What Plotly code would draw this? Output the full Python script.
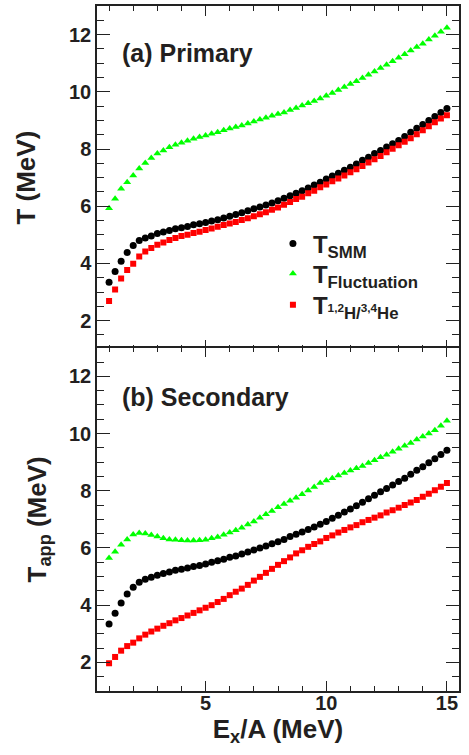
import numpy as np
import plotly.graph_objects as go
from plotly.subplots import make_subplots

# Excitation energy per nucleon (MeV), 0.25 MeV steps
ex_per_a = list(np.round(np.arange(1.0, 15.001, 0.25), 2))

# (a) Primary
t_smm_primary = [3.34, 3.72, 4.08, 4.38, 4.63, 4.80, 4.89, 4.96, 5.05, 5.10,
                 5.15, 5.21, 5.25, 5.29, 5.35, 5.39, 5.43, 5.48, 5.53, 5.59,
                 5.65, 5.71, 5.77, 5.84, 5.91, 5.97, 6.04, 6.11, 6.19, 6.28,
                 6.37, 6.45, 6.54, 6.64, 6.74, 6.84, 6.95, 7.06, 7.15, 7.26,
                 7.36, 7.48, 7.61, 7.71, 7.84, 7.95, 8.07, 8.18, 8.30, 8.44,
                 8.59, 8.73, 8.86, 9.00, 9.14, 9.28, 9.42]
t_fluct_primary = [5.93, 6.26, 6.61, 6.84, 7.07, 7.32, 7.51, 7.69, 7.84, 7.95,
                   8.06, 8.15, 8.22, 8.29, 8.36, 8.42, 8.47, 8.53, 8.59, 8.66,
                   8.72, 8.77, 8.82, 8.89, 8.96, 9.03, 9.09, 9.16, 9.22, 9.28,
                   9.36, 9.43, 9.52, 9.60, 9.68, 9.77, 9.86, 9.96, 10.06, 10.17,
                   10.27, 10.37, 10.48, 10.60, 10.71, 10.83, 10.95, 11.07, 11.19, 11.31,
                   11.44, 11.57, 11.68, 11.83, 11.96, 12.10, 12.24]
t_hhe_primary = [2.69, 3.09, 3.47, 3.77, 3.99, 4.24, 4.42, 4.54, 4.65, 4.73,
                 4.82, 4.89, 4.96, 5.00, 5.06, 5.11, 5.17, 5.22, 5.28, 5.34,
                 5.40, 5.45, 5.52, 5.58, 5.65, 5.72, 5.79, 5.88, 5.96, 6.05,
                 6.15, 6.25, 6.33, 6.45, 6.54, 6.66, 6.76, 6.87, 6.97, 7.07,
                 7.19, 7.29, 7.41, 7.53, 7.64, 7.76, 7.89, 8.01, 8.13, 8.25,
                 8.38, 8.52, 8.66, 8.80, 8.94, 9.07, 9.18]

# (b) Secondary
t_smm_secondary = [3.34, 3.72, 4.08, 4.39, 4.63, 4.80, 4.91, 4.98, 5.05, 5.11,
                   5.16, 5.22, 5.26, 5.30, 5.35, 5.39, 5.44, 5.50, 5.55, 5.61,
                   5.68, 5.72, 5.79, 5.86, 5.93, 6.00, 6.07, 6.15, 6.22, 6.30,
                   6.40, 6.48, 6.56, 6.65, 6.73, 6.83, 6.93, 7.04, 7.14, 7.26,
                   7.36, 7.48, 7.60, 7.72, 7.84, 7.97, 8.08, 8.20, 8.32, 8.44,
                   8.58, 8.72, 8.84, 8.98, 9.12, 9.27, 9.42]
t_fluct_secondary = [5.65, 5.87, 6.11, 6.30, 6.47, 6.52, 6.51, 6.45, 6.40, 6.34,
                     6.30, 6.29, 6.27, 6.26, 6.26, 6.27, 6.29, 6.34, 6.38, 6.46,
                     6.54, 6.62, 6.71, 6.82, 6.93, 7.06, 7.18, 7.29, 7.42, 7.54,
                     7.65, 7.76, 7.88, 8.01, 8.13, 8.27, 8.36, 8.44, 8.53, 8.62,
                     8.71, 8.79, 8.87, 8.97, 9.07, 9.17, 9.26, 9.36, 9.47, 9.57,
                     9.67, 9.79, 9.90, 10.00, 10.12, 10.27, 10.45]
t_hhe_secondary = [1.97, 2.19, 2.41, 2.57, 2.69, 2.84, 2.97, 3.08, 3.18, 3.28,
                   3.37, 3.47, 3.55, 3.64, 3.73, 3.82, 3.91, 4.00, 4.11, 4.22,
                   4.35, 4.47, 4.58, 4.71, 4.86, 4.99, 5.13, 5.27, 5.41, 5.54,
                   5.67, 5.81, 5.92, 6.04, 6.14, 6.23, 6.35, 6.44, 6.54, 6.63,
                   6.72, 6.80, 6.90, 6.98, 7.06, 7.14, 7.24, 7.32, 7.41, 7.50,
                   7.59, 7.68, 7.79, 7.90, 8.02, 8.14, 8.27]

series_names = ["T<sub>SMM</sub>",
                "T<sub>Fluctuation</sub>",
                "T<sub><sup>1,2</sup>H/<sup>3,4</sup>He</sub>"]
panel_labels = ["(a) Primary", "(b) Secondary"]
y_titles = ["T (MeV)", "T<sub>app</sub> (MeV)"]
x_title = "E<sub>x</sub>/A (MeV)"

FONT = "Liberation Sans, Arial, Helvetica, sans-serif"
TXT = "#231f20"
LINE = "#222"

fig = make_subplots(rows=2, cols=1, shared_xaxes=True, vertical_spacing=0.0)

styles = [
    dict(symbol="circle", color="#000000", size=7),
    dict(symbol="triangle-up", color="#00ff00", size=7),
    dict(symbol="square", color="#ff0000", size=6),
]
legend_ids = ["legend", "legend2", "legend3"]
panels = [
    [t_smm_primary, t_fluct_primary, t_hhe_primary],
    [t_smm_secondary, t_fluct_secondary, t_hhe_secondary],
]
for r, data in enumerate(panels, start=1):
    for k, ys in enumerate(data):
        st = styles[k]
        fig.add_trace(go.Scatter(
            x=ex_per_a, y=ys, mode="markers", name=series_names[k],
            showlegend=(r == 1), legend=legend_ids[k],
            marker=dict(symbol=st["symbol"], color=st["color"], size=st["size"],
                        line=dict(width=0)),
        ), row=r, col=1)

axis_common = dict(
    showline=True, linecolor=LINE, linewidth=1.5, mirror="ticks",
    ticks="inside", tickcolor=LINE, tickwidth=1.2,
    showgrid=False, zeroline=False,
    tickfont=dict(family=FONT, size=20, color=TXT, weight="bold"),
)
title_standoff = [26, 15]
for r in (1, 2):
    fig.update_xaxes(range=[0.5, 15.5], tick0=0, dtick=5, ticklen=10,
                     minor=dict(dtick=1, ticklen=5, ticks="inside", tickcolor=LINE),
                     showticklabels=(r == 2), row=r, col=1, **axis_common)
    fig.update_yaxes(range=[1, 13], tick0=0, dtick=2, ticklen=13,
                     minor=dict(dtick=0.5, ticklen=7, ticks="inside", tickcolor=LINE),
                     row=r, col=1,
                     title=dict(text=y_titles[r - 1], standoff=title_standoff[r - 1],
                                font=dict(family=FONT, size=26, color=TXT, weight="bold")),
                     **axis_common)

fig.update_xaxes(row=2, col=1, ticklabelstandoff=-7,
                 title=dict(text=x_title, standoff=0,
                            font=dict(family=FONT, size=26, color=TXT, weight="bold")))
# slight overlap so the shared border lines of the two panels coincide
fig.update_layout(
    yaxis=dict(domain=[0.4989, 1.0]),
    yaxis2=dict(domain=[0.0, 0.5011]),
)

label_y = [0.862, 0.857]
for i, lab in enumerate(panel_labels):
    sfx = "" if i == 0 else "2"
    fig.add_annotation(
        text=lab, xref=f"x{sfx} domain", yref=f"y{sfx} domain",
        x=0.064, y=label_y[i], xanchor="left", yanchor="middle", showarrow=False,
        font=dict(family=FONT, size=25, color=TXT, weight="bold"),
    )

legend_style = dict(
    x=0.486, xanchor="left", yanchor="middle",
    bgcolor="rgba(0,0,0,0)", borderwidth=0,
    font=dict(family=FONT, size=24, color=TXT, weight="bold"),
    itemsizing="trace",
)
fig.update_layout(
    width=469, height=755,
    margin=dict(l=97, r=10, t=4, b=64),
    paper_bgcolor="white", plot_bgcolor="white",
    showlegend=True,
    legend=dict(y=0.6526, **legend_style),
    legend2=dict(y=0.6089, **legend_style),
    legend3=dict(y=0.5633, **legend_style),
)

fig.write_html("out.html")
